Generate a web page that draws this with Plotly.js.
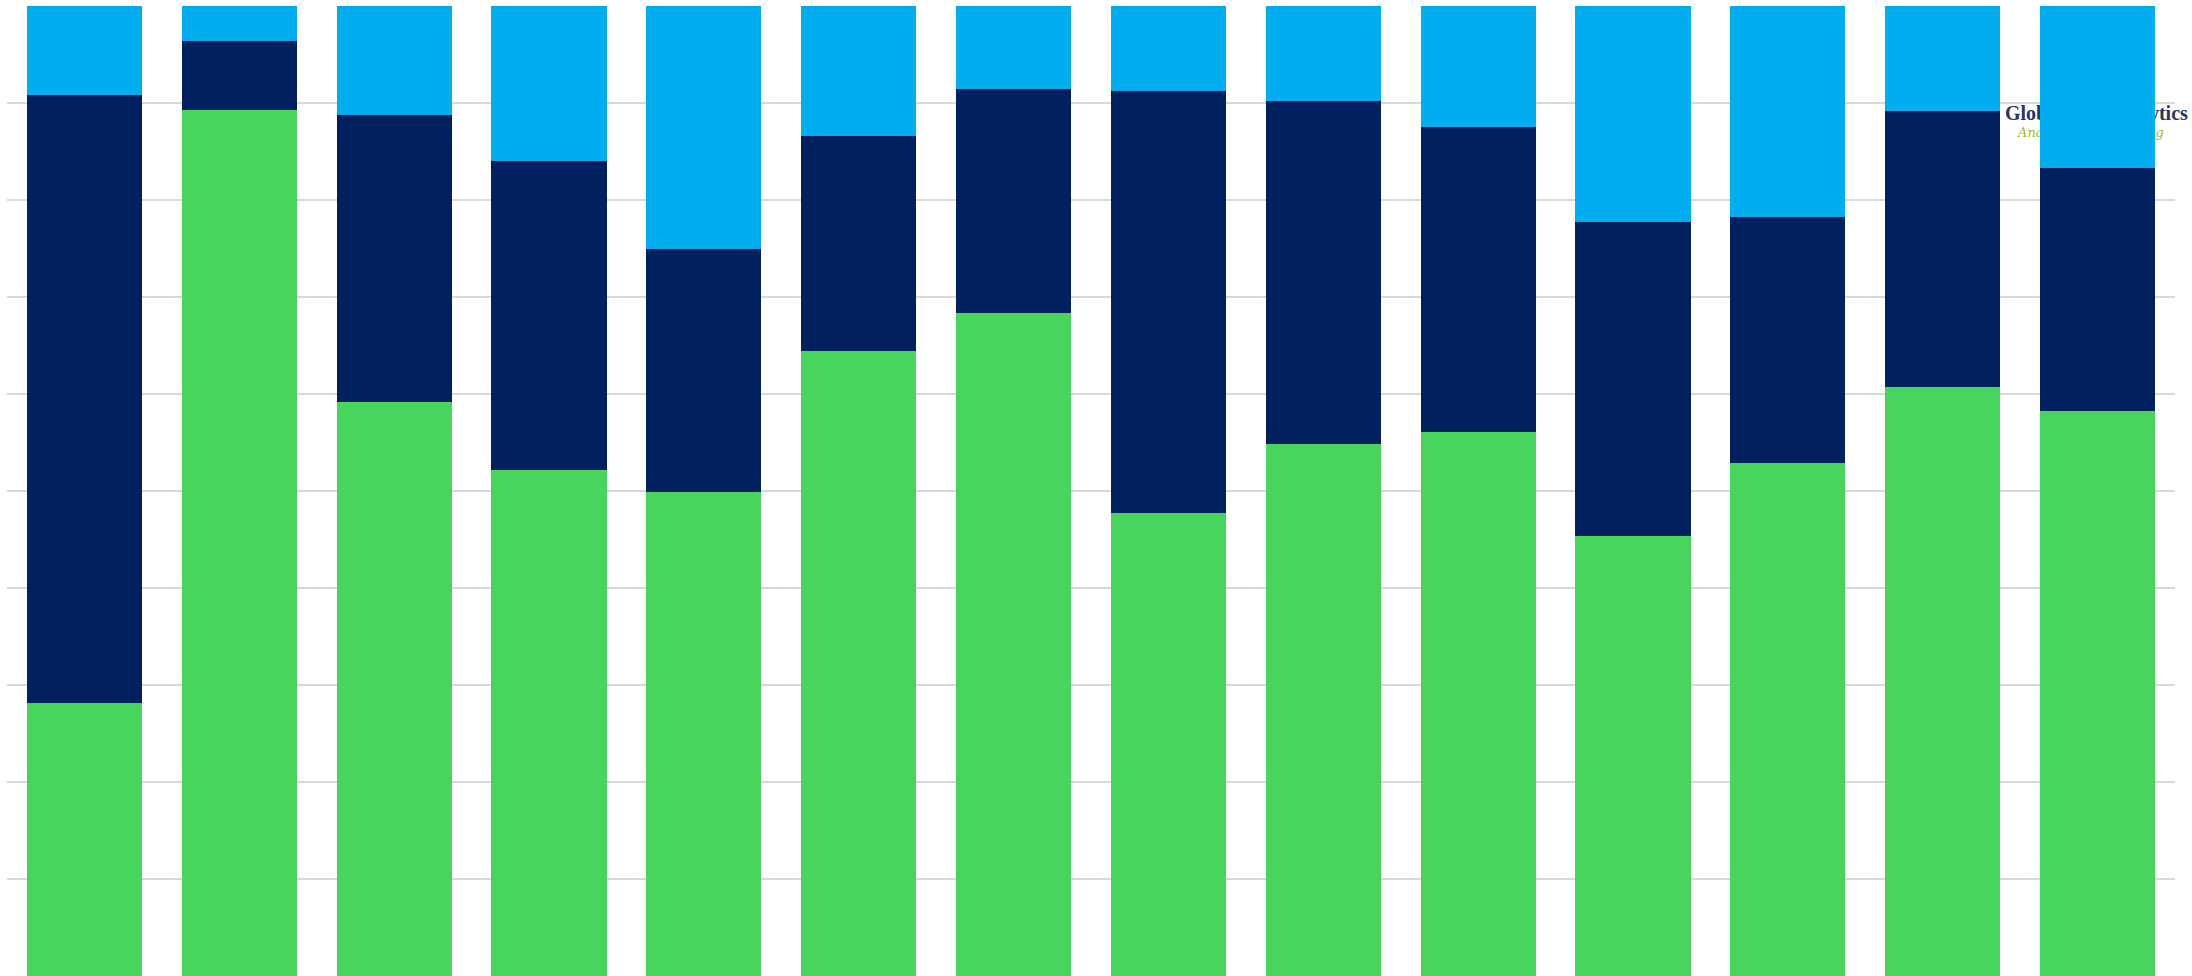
<!DOCTYPE html>
<html>
<head>
<meta charset="utf-8">
<script src="https://cdn.plot.ly/plotly-3.0.1.min.js"></script>
<style>
  html, body { margin: 0; padding: 0; background: #ffffff; }
  #wrap { position: relative; width: 2192px; height: 976px; overflow: hidden; }
  #logo { position: absolute; left: 2005px; top: 101px; z-index: 0; white-space: nowrap; }
  #logo .t1 { font-family: "Liberation Serif", "DejaVu Serif", serif; font-weight: bold; font-size: 20px; color: #1F3763; line-height: 24px; }
  #logo .t2 { font-family: "DejaVu Serif", serif; font-style: italic; font-size: 13px; color: #9CC31E; margin-left: 13px; line-height: 16px; }
  #chart { position: absolute; left: 0; top: 0; z-index: 1; }
</style>
</head>
<body>
<div id="wrap">
  <div id="logo"><div class="t1">GlobalData Analytics</div><div class="t2">Analysis &amp; Consulting</div></div>
  <div id="chart"></div>
</div>
<script>
const categories = ["1","2","3","4","5","6","7","8","9","10","11","12","13","14"];
const greenValues = [28.1, 89.3, 59.2, 52.2, 49.9, 64.4, 68.4, 47.7, 54.8, 56.1, 45.4, 52.9, 60.7, 58.2];
const navyValues  = [62.7,  7.1, 29.6, 31.8, 25.0, 22.2, 23.0, 43.5, 35.4, 31.4, 32.3, 25.3, 28.5, 25.1];
const blueValues  = [ 9.2,  3.6, 11.2, 16.0, 25.1, 13.4,  8.6,  8.8,  9.8, 12.5, 22.3, 21.8, 10.8, 16.7];

const traces = [
  {type: "bar", x: categories, y: greenValues, name: "Series 1", marker: {color: "#48D55B"}},
  {type: "bar", x: categories, y: navyValues,  name: "Series 2", marker: {color: "#00205F"}},
  {type: "bar", x: categories, y: blueValues,  name: "Series 3", marker: {color: "#00AEEF"}}
];

const layout = {
  width: 2192, height: 976,
  margin: {l: 7, r: 17, t: 6, b: 0, pad: 0},
  barmode: "stack",
  bargap: 0.257,
  showlegend: false,
  paper_bgcolor: "rgba(0,0,0,0)",
  plot_bgcolor: "rgba(0,0,0,0)",
  xaxis: {type: "category", showticklabels: false, showgrid: false, zeroline: false, ticks: "", showline: false},
  yaxis: {range: [0, 100], dtick: 10, showticklabels: false, showgrid: true, gridcolor: "#D9D9D9", gridwidth: 2, zeroline: false, ticks: "", showline: false}
};

Plotly.newPlot("chart", traces, layout, {displayModeBar: false, staticPlot: true});
</script>
</body>
</html>
